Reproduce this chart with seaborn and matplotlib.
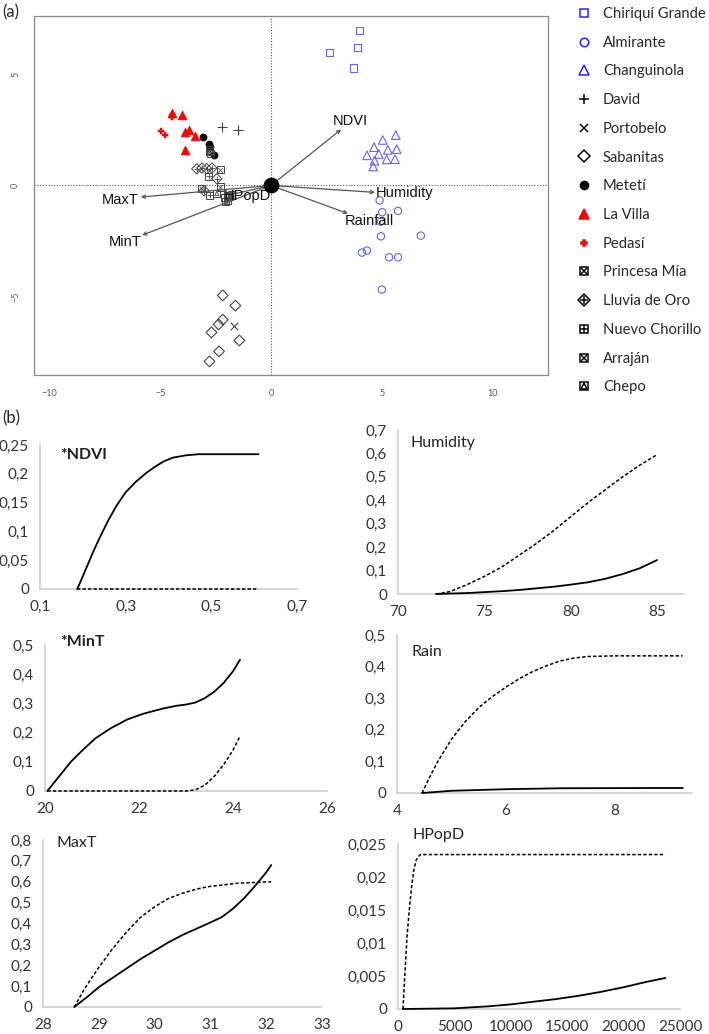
import numpy as np
import pandas as pd
import matplotlib
matplotlib.use("Agg")
import matplotlib.pyplot as plt
import seaborn as sns
from matplotlib.lines import Line2D

# ---------------- (a) PCA biplot scores ----------------
chiriqui_grande = [(3.98, 6.96), (3.9, 6.2), (2.63, 5.96), (3.71, 5.27)]
almirante = [(4.9, -0.67), (5.02, -1.2), (5.73, -1.14), (4.96, -1.62), (4.96, -2.28),
             (6.76, -2.25), (4.1, -3.01), (4.33, -2.92), (5.33, -3.22), (5.73, -3.22),
             (5.0, -4.67)]
changuinola = [(5.63, 2.26), (5.04, 2.04), (4.65, 1.72), (5.67, 1.63), (5.27, 1.6),
               (4.33, 1.35), (4.86, 1.41), (5.22, 1.17), (5.59, 1.18), (4.67, 1.11),
               (4.61, 0.85)]
david = [(-2.2, 2.63), (-1.51, 2.47)]
portobelo = [(-1.67, -6.32)]
sabanitas = [(-2.18, -4.93), (-1.61, -5.39), (-2.18, -6.02), (-2.37, -6.23),
             (-2.69, -6.59), (-1.43, -6.95), (-2.35, -7.44), (-2.78, -7.89)]
meteti = [(-3.06, 2.19), (-2.78, 1.86), (-2.75, 1.72), (-2.59, 1.35)]
la_villa = [(-4.47, 3.24), (-4.0, 3.18), (-3.87, 2.39), (-3.7, 2.5), (-3.43, 2.2), (-3.87, 1.6)]
pedasi = [(-4.47, 3.05), (-4.47, 3.18), (-4.97, 2.44), (-4.8, 2.27)]
princesa_mia = [(-2.79, 1.59), (-2.75, 1.45), (-3.12, -0.15), (-1.98, -0.66)]
lluvia_de_oro = [(-3.35, 0.75), (-3.12, 0.78), (-2.9, 0.75), (-2.67, 0.78), (-2.45, 0.3),
                 (-3.02, -0.24)]
nuevo_chorillo = [(-2.82, 0.41), (-2.76, -0.45), (-2.12, -0.54), (-1.88, -0.51)]
arrajan = [(-2.3, 0.71), (-2.29, -0.07), (-1.78, -0.39), (-2.79, 1.52)]
chepo = [(-2.45, -0.36), (-2.04, -0.73), (-1.95, -0.45)]

# loadings (arrow tips)
var_names = ["NDVI", "Humidity", "Rainfall", "MaxT", "MinT", "HPopD"]
var_x = [3.16, 4.69, 3.47, -5.88, -5.82, -2.0]
var_y = [2.51, -0.31, -1.26, -0.52, -2.23, -0.45]

# ---------------- (b) response curves ----------------
ndvi_x = [0.187, 0.2, 0.213, 0.225, 0.24, 0.26, 0.279, 0.3, 0.325, 0.349, 0.37, 0.39,
          0.41, 0.44, 0.47, 0.61]
ndvi_solid = [0, 0.022, 0.045, 0.066, 0.09, 0.12, 0.145, 0.168, 0.187, 0.202, 0.213,
              0.222, 0.228, 0.232, 0.234, 0.234]
ndvi_dx = [0.187, 0.61]
ndvi_dashed = [0, 0]

hum_x = [72.2, 73, 74, 75, 76, 77, 78, 79, 80, 81, 82, 83, 84, 85]
hum_solid = [0, 0.002, 0.004, 0.008, 0.012, 0.017, 0.024, 0.031, 0.04, 0.05, 0.065, 0.085, 0.11, 0.145]
hum_dashed = [0, 0.01, 0.04, 0.075, 0.115, 0.165, 0.215, 0.27, 0.33, 0.39, 0.445, 0.5, 0.55, 0.595]

mint_x = [20.05, 20.3, 20.55, 20.8, 21.07, 21.4, 21.75, 22.1, 22.5, 22.8, 23.0, 23.2,
          23.4, 23.6, 23.8, 24.0, 24.15]
mint_solid = [0, 0.05, 0.1, 0.14, 0.18, 0.215, 0.245, 0.265, 0.282, 0.292, 0.296, 0.303,
              0.318, 0.34, 0.37, 0.41, 0.45]
mint_dx = [20.05, 23.0, 23.2, 23.4, 23.6, 23.8, 24.0, 24.14]
mint_dashed = [0, 0, 0.004, 0.02, 0.05, 0.09, 0.14, 0.185]

rain_x = [4.46, 4.6, 4.75, 5.0, 5.25, 5.5, 5.75, 6.0, 6.25, 6.5, 6.75, 7.0, 7.25, 7.5,
          8.0, 9.25]
rain_dashed = [0, 0.05, 0.1, 0.17, 0.225, 0.27, 0.305, 0.335, 0.362, 0.385, 0.403, 0.418,
               0.427, 0.432, 0.434, 0.434]
rain_sx = [4.46, 5.0, 6.0, 7.0, 9.25]
rain_solid = [0, 0.007, 0.012, 0.015, 0.016]

maxt_x = [28.56, 28.8, 29.0, 29.25, 29.5, 29.75, 30.0, 30.25, 30.5, 30.75, 31.0, 31.2,
          31.4, 31.6, 31.8, 32.0, 32.09]
maxt_solid = [0, 0.05, 0.095, 0.14, 0.185, 0.23, 0.27, 0.31, 0.345, 0.375, 0.405, 0.43,
              0.47, 0.52, 0.58, 0.645, 0.68]
maxt_dx = [28.56, 28.75, 29.0, 29.25, 29.5, 29.75, 30.0, 30.25, 30.5, 30.75, 31.0, 31.5,
           32.09]
maxt_dashed = [0, 0.09, 0.19, 0.28, 0.36, 0.43, 0.48, 0.52, 0.545, 0.565, 0.578, 0.593, 0.6]

hpop_dx = [440, 600, 800, 1000, 1200, 1400, 1600, 1800, 2000, 23700]
hpop_dashed = [0, 0.005, 0.011, 0.015, 0.0185, 0.021, 0.0225, 0.0231, 0.0234, 0.0234]
hpop_sx = [440, 5000, 8000, 10000, 12000, 14000, 16000, 18000, 20000, 22000, 23700]
hpop_solid = [0, 0.0001, 0.0004, 0.0007, 0.0011, 0.0015, 0.002, 0.0026, 0.0033, 0.0041, 0.0047]

sns.set_style("white")
plt.rcParams['font.family'] = ['Lato', 'DejaVu Sans']

W, H = 709, 1034
fig = plt.figure(figsize=(W / 100, H / 100), dpi=100)


def box(l, t, r, b):
    return [l / W, 1 - b / H, (r - l) / W, (b - t) / H]


# ================= panel (a) =================
ax = fig.add_axes(box(34, 16, 548, 375))
blue = "#6464ee"
grey = "#444444"

sites = {
    "Chiriquí Grande": chiriqui_grande, "Almirante": almirante, "Changuinola": changuinola,
    "David": david, "Portobelo": portobelo, "Sabanitas": sabanitas, "Metetí": meteti,
    "La Villa": la_villa, "Pedasí": pedasi, "Princesa Mía": princesa_mia,
    "Lluvia de Oro": lluvia_de_oro, "Nuevo Chorillo": nuevo_chorillo,
    "Arraján": arrajan, "Chepo": chepo,
}
rows = []
for name, pts in sites.items():
    for px, py in pts:
        rows.append({"site": name, "PC1": px, "PC2": py})
scores = pd.DataFrame(rows)

# (marker, size, face, edge, lw) layers per site
styles = {
    "Chiriquí Grande": [("s", 28, "none", blue, 0.8)],
    "Almirante": [("o", 28, "none", blue, 0.8)],
    "Changuinola": [("^", 38, "none", blue, 0.8)],
    "David": [("+", 45, grey, grey, 0.8)],
    "Portobelo": [("x", 30, grey, grey, 0.8)],
    "Sabanitas": [("D", 30, "none", grey, 0.8)],
    "Metetí": [("o", 26, "black", "black", 0.5)],
    "La Villa": [("^", 40, "red", "red", 0.5)],
    "Pedasí": [("P", 16, "red", "red", 0.3)],
    "Princesa Mía": [("s", 26, "none", grey, 0.7), ("x", 14, grey, grey, 0.6)],
    "Lluvia de Oro": [("D", 28, "none", grey, 0.7), ("+", 22, grey, grey, 0.6)],
    "Nuevo Chorillo": [("s", 26, "none", grey, 0.7), ("+", 20, grey, grey, 0.6)],
    "Arraján": [("s", 26, "none", grey, 0.7), ("x", 12, grey, grey, 0.6)],
    "Chepo": [("s", 26, "none", grey, 0.7), ("^", 10, "none", grey, 0.6)],
}

ax.axhline(0, color="#555555", ls=(0, (1, 1.5)), lw=0.8, zorder=1)
ax.axvline(0, color="#555555", ls=(0, (1, 1.5)), lw=0.8, zorder=1)

for name, layers in styles.items():
    sub = scores[scores["site"] == name]
    for mk, s, fc, ec, lw in layers:
        if mk in ("+", "x"):
            sns.scatterplot(data=sub, x="PC1", y="PC2", marker=mk, s=s, color=ec,
                            linewidth=lw, ax=ax, legend=False, zorder=3)
        else:
            sns.scatterplot(data=sub, x="PC1", y="PC2", marker=mk, s=s, color=ec,
                            facecolor=fc, edgecolor=ec, linewidth=lw, ax=ax,
                            legend=False, zorder=3)

# centroid
sns.scatterplot(x=[0], y=[0], s=110, color="black", edgecolor="black", ax=ax,
                legend=False, zorder=5)

label_pos = {
    "NDVI": (0.4, 0.08, "center", "bottom"),
    "Humidity": (0.05, -0.05, "left", "center"),
    "Rainfall": (-0.16, -0.34, "left", "center"),
    "MaxT": (-0.12, -0.11, "right", "center"),
    "MinT": (-0.05, -0.3, "right", "center"),
    "HPopD": (0.93, -0.03, "center", "center"),
}
for nm, vx, vy in zip(var_names, var_x, var_y):
    ax.annotate("", xy=(vx, vy), xytext=(0, 0),
                arrowprops=dict(arrowstyle="->", color="#555555", lw=0.9,
                                shrinkA=0, shrinkB=0, mutation_scale=6), zorder=4)
    dx, dy, ha, va = label_pos[nm]
    ax.text(vx + dx, vy + dy, nm, ha=ha, va=va, fontsize=10.5, color="#111111",
            family=["Liberation Sans", "DejaVu Sans"], zorder=6)

ax.set_xlim(-10.7, 12.5)
ax.set_ylim(-8.5, 7.6)
ax.set_xticks([-10, -5, 0, 5, 10])
ax.set_yticks([-5, 0, 5])
ax.set_xlabel("")
ax.set_ylabel("")
ax.tick_params(direction="out", length=4, width=0.6, colors="#555555", labelsize=6.5,
               pad=6)
ax.tick_params(axis="y", labelrotation=90)
for lab in ax.get_yticklabels():
    lab.set_va("center")
for sp in ax.spines.values():
    sp.set_color("#888888")
    sp.set_linewidth(0.9)

# legend
handles = []
for name, layers in styles.items():
    parts = []
    for mk, s, fc, ec, lw in layers:
        ec2 = "#2020ff" if ec == blue else ("black" if ec == grey else ec)
        fc2 = "none" if fc == "none" else ec2
        parts.append(Line2D([], [], ls="none", marker=mk, markersize=np.sqrt(s) * 1.15,
                            markerfacecolor=fc2, markeredgecolor=ec2,
                            markeredgewidth=max(lw, 0.9) * 1.2))
    handles.append(tuple(parts) if len(parts) > 1 else parts[0])
fig.legend(handles, list(styles.keys()), loc="upper left",
           bbox_to_anchor=(577 / W, 1 - 7 / H), frameon=False, fontsize=10.6,
           handlelength=1.0, handletextpad=0.75, labelspacing=1.0, borderpad=0,
           borderaxespad=0)

fig.text(2 / W, 1 - 12 / H, "(a)", fontsize=12, va="center", ha="left")
fig.text(2 / W, 1 - 418 / H, "(b)", fontsize=12, va="center", ha="left")

# ================= panel (b) =================
solid_kw = dict(color="black", lw=1.3, clip_on=False, zorder=4)
dash_kw = dict(color="black", lw=1.1, linestyle=(0, (2.2, 1.4)), clip_on=False, zorder=4)


def excel_axes(rect, xlim, ylim, xticks, xlabels, yticks, ylabels, title, tpos, bold):
    a = fig.add_axes(box(*rect))
    a.set_xlim(*xlim)
    a.set_ylim(*ylim)
    a.set_xticks(xticks)
    a.set_xticklabels(xlabels)
    a.set_yticks(yticks)
    a.set_yticklabels(ylabels)
    for side in ("top", "right"):
        a.spines[side].set_visible(False)
    for side in ("left", "bottom"):
        a.spines[side].set_color("#d0d0d0")
        a.spines[side].set_linewidth(1.2)
    a.tick_params(length=0, labelsize=11, colors="#333333", pad=8)
    a.set_xlabel("")
    a.set_ylabel("")
    a.text(tpos[0], tpos[1], title, transform=a.transAxes, fontsize=11.5,
           fontweight="bold" if bold else "normal", ha="left", va="center",
           color="#222222")
    return a


a1 = excel_axes((40, 445, 297, 589), (0.1, 0.7), (0, 0.25), [0.1, 0.3, 0.5, 0.7],
                ["0,1", "0,3", "0,5", "0,7"], [0, 0.05, 0.1, 0.15, 0.2, 0.25],
                ["0", "0,05", "0,1", "0,15", "0,2", "0,25"], "*NDVI", (0.08, 0.93), True)
sns.lineplot(x=ndvi_x, y=ndvi_solid, ax=a1, **solid_kw)
sns.lineplot(x=ndvi_dx, y=ndvi_dashed, ax=a1, **dash_kw)

a2 = excel_axes((398, 430, 683, 594), (70, 86.5), (0, 0.7), [70, 75, 80, 85],
                ["70", "75", "80", "85"], [0, 0.1, 0.2, 0.3, 0.4, 0.5, 0.6, 0.7],
                ["0", "0,1", "0,2", "0,3", "0,4", "0,5", "0,6", "0,7"], "Humidity",
                (0.045, 0.92), False)
sns.lineplot(x=hum_x, y=hum_solid, ax=a2, **solid_kw)
sns.lineplot(x=hum_x, y=hum_dashed, ax=a2, **dash_kw)

a3 = excel_axes((45, 645, 327, 791), (20, 26), (0, 0.5), [20, 22, 24, 26],
                ["20", "22", "24", "26"], [0, 0.1, 0.2, 0.3, 0.4, 0.5],
                ["0", "0,1", "0,2", "0,3", "0,4", "0,5"], "*MinT", (0.055, 1.02), True)
sns.lineplot(x=mint_x, y=mint_solid, ax=a3, **solid_kw)
sns.lineplot(x=mint_dx, y=mint_dashed, ax=a3, **dash_kw)

a4 = excel_axes((397, 635, 692, 793), (4, 9.42), (0, 0.5), [4, 6, 8],
                ["4", "6", "8"], [0, 0.1, 0.2, 0.3, 0.4, 0.5],
                ["0", "0,1", "0,2", "0,3", "0,4", "0,5"], "Rain", (0.05, 0.89), False)
sns.lineplot(x=rain_sx, y=rain_solid, ax=a4, **solid_kw)
sns.lineplot(x=rain_x, y=rain_dashed, ax=a4, **dash_kw)

a5 = excel_axes((43, 840, 322, 1007), (28, 33), (0, 0.8), [28, 29, 30, 31, 32, 33],
                ["28", "29", "30", "31", "32", "33"],
                [0, 0.1, 0.2, 0.3, 0.4, 0.5, 0.6, 0.7, 0.8],
                ["0", "0,1", "0,2", "0,3", "0,4", "0,5", "0,6", "0,7", "0,8"], "MaxT",
                (0.05, 0.98), False)
sns.lineplot(x=maxt_x, y=maxt_solid, ax=a5, **solid_kw)
sns.lineplot(x=maxt_dx, y=maxt_dashed, ax=a5, **dash_kw)

a6 = excel_axes((398, 844, 680, 1009), (0, 25000), (0, 0.025),
                [0, 5000, 10000, 15000, 20000, 25000],
                ["0", "5000", "10000", "15000", "20000", "25000"],
                [0, 0.005, 0.01, 0.015, 0.02, 0.025],
                ["0", "0,005", "0,01", "0,015", "0,02", "0,025"], "HPopD", (0.05, 1.055),
                False)
sns.lineplot(x=hpop_sx, y=hpop_solid, ax=a6, **solid_kw)
sns.lineplot(x=hpop_dx, y=hpop_dashed, ax=a6, **dash_kw)

fig.savefig("out.png", dpi=100)
